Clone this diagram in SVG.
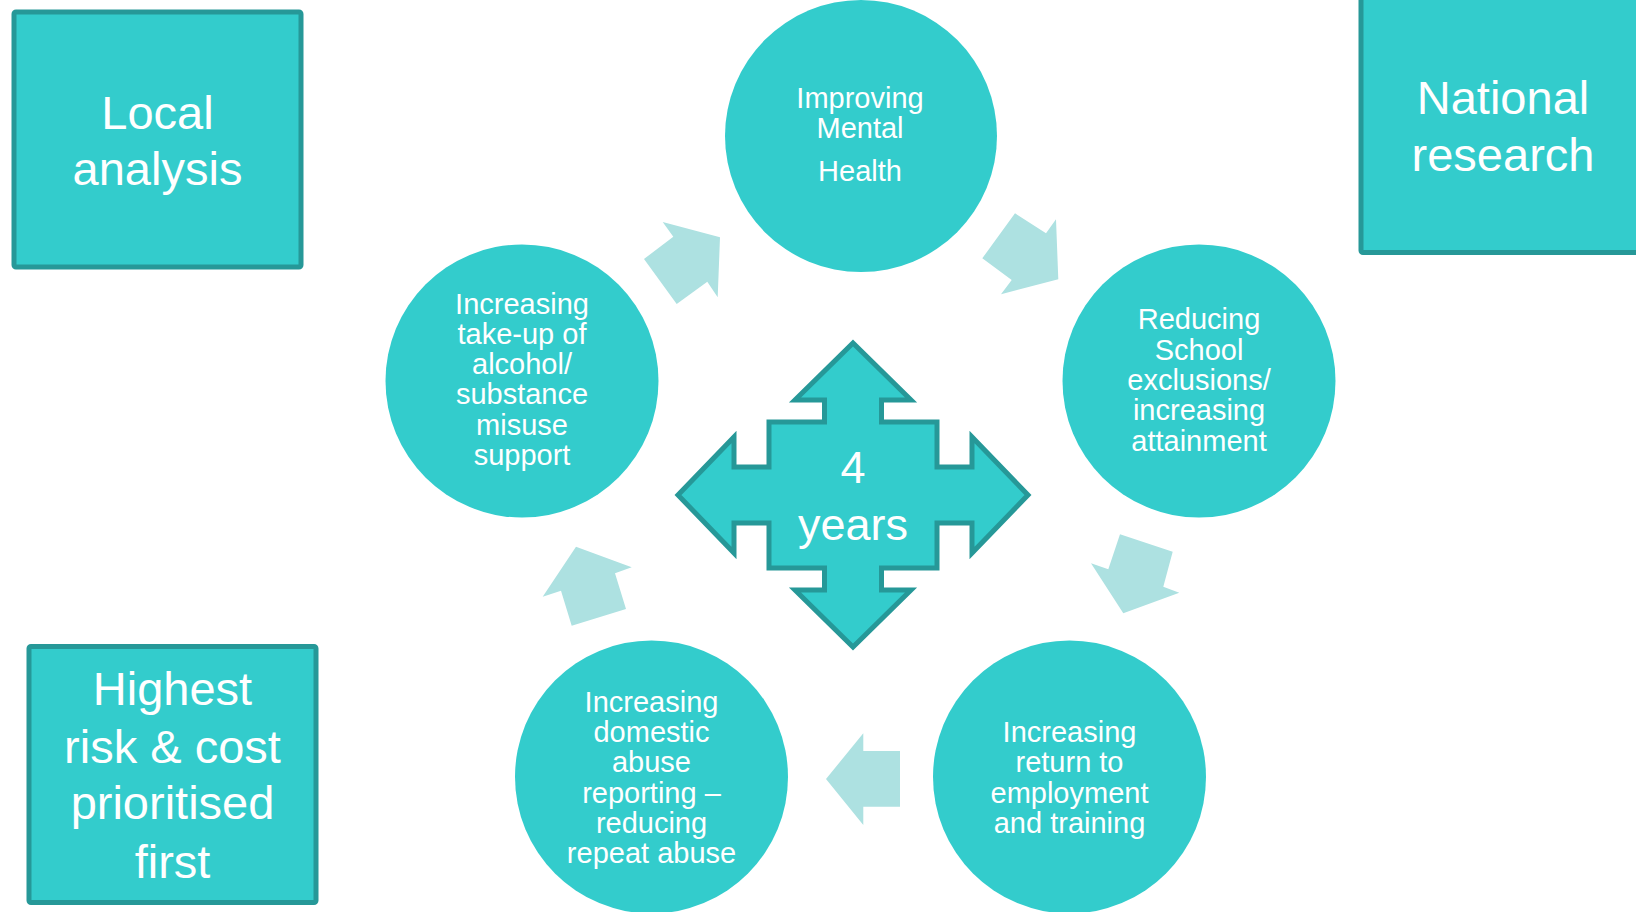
<svg xmlns="http://www.w3.org/2000/svg" width="1636" height="912" viewBox="0 0 1636 912">
<style>
.box{fill:#33CCCC;stroke:#269898;stroke-width:5}
.circ{fill:#33CCCC}
.flow{fill:#ADE1E1}
.t{font-family:"Liberation Sans",Arial,sans-serif;fill:#FFFFFF;text-anchor:middle}
.big{font-size:47px}
.sm{font-size:29px}
</style>
<rect width="1636" height="912" fill="#FFFFFF"/>
<g id="local-analysis">
<rect class="box" x="14" y="12" width="287" height="255" rx="2"/>
<text class="t big" x="157.5" y="129">Local</text>
<text class="t big" x="157.5" y="185">analysis</text>
</g>
<g id="national-research">
<rect class="box" x="1361" y="-10" width="300" height="262.5" rx="2"/>
<text class="t big" x="1503" y="114">National</text>
<text class="t big" x="1503" y="171">research</text>
</g>
<g id="highest-risk">
<rect class="box" x="29" y="646.5" width="287" height="256" rx="2"/>
<text class="t big" x="172.5" y="705">Highest</text>
<text class="t big" x="172.5" y="763">risk &amp; cost</text>
<text class="t big" x="172.5" y="819">prioritised</text>
<text class="t big" x="172.5" y="878">first</text>
</g>
<g id="mental-health">
<circle class="circ" cx="861" cy="136" r="136"/>
<text class="t sm" x="860" y="108">Improving</text>
<text class="t sm" x="860" y="138">Mental</text>
<text class="t sm" x="860" y="181">Health</text>
</g>
<g id="school-exclusions">
<circle class="circ" cx="1199" cy="381" r="136.5"/>
<text class="t sm" x="1199" y="329">Reducing</text>
<text class="t sm" x="1199" y="359.5">School</text>
<text class="t sm" x="1199" y="390">exclusions/</text>
<text class="t sm" x="1199" y="420">increasing</text>
<text class="t sm" x="1199" y="450.5">attainment</text>
</g>
<g id="employment">
<circle class="circ" cx="1069.5" cy="777" r="136.5"/>
<text class="t sm" x="1069.5" y="742">Increasing</text>
<text class="t sm" x="1069.5" y="772">return to</text>
<text class="t sm" x="1069.5" y="803">employment</text>
<text class="t sm" x="1069.5" y="833">and training</text>
</g>
<g id="domestic-abuse">
<circle class="circ" cx="651.5" cy="777" r="136.5"/>
<text class="t sm" x="651.5" y="712">Increasing</text>
<text class="t sm" x="651.5" y="742">domestic</text>
<text class="t sm" x="651.5" y="772">abuse</text>
<text class="t sm" x="651.5" y="803">reporting –</text>
<text class="t sm" x="651.5" y="833">reducing</text>
<text class="t sm" x="651.5" y="863">repeat abuse</text>
</g>
<g id="substance-misuse">
<circle class="circ" cx="522" cy="381" r="136.5"/>
<text class="t sm" x="522" y="314">Increasing</text>
<text class="t sm" x="522" y="344">take-up of</text>
<text class="t sm" x="522" y="374">alcohol/</text>
<text class="t sm" x="522" y="404">substance</text>
<text class="t sm" x="522" y="435">misuse</text>
<text class="t sm" x="522" y="465">support</text>
</g>
<g id="four-years">
<path class="box" transform="translate(853 495)" d="M0,-152 L58,-95 L28.5,-95 L28.5,-73 L84,-73 L84,-28 L119,-28 L119,-58 L175,0 L119,58 L119,28 L84,28 L84,73 L28.5,73 L28.5,95 L58,95 L0,152 L-58,95 L-28.5,95 L-28.5,73 L-84,73 L-84,28 L-119,28 L-119,58 L-175,0 L-119,-58 L-119,-28 L-84,-28 L-84,-73 L-28.5,-73 L-28.5,-95 L-58,-95 Z"/>
<text class="t" x="853" y="483" font-size="45">4</text>
<text class="t" x="853" y="540" font-size="45">years</text>
</g>
<g id="connectors">
<polygon class="flow" points="662.7,222 720,237.3 717.7,297.3 707.3,281.7 676.7,304 644,259 673.3,236.7"/>
<polygon class="flow" points="1015,213.3 1046,233.3 1056,219.3 1058.3,279.3 1001,294.3 1011.7,280 982.3,258.3"/>
<polygon class="flow" points="1120,534.3 1172.7,551.7 1163.3,586.7 1179.3,592.7 1123.3,613.3 1091,563.3 1108.3,569.3"/>
<polygon class="flow" points="900,751 900,806.7 863.3,806.7 863.3,825 826,779 863.3,733.3 863.3,751"/>
<polygon class="flow" points="576,546.7 631.7,567.3 615,573.3 626,609 571.7,625.7 561,590.7 542.7,596.7"/>
</g>
</svg>
